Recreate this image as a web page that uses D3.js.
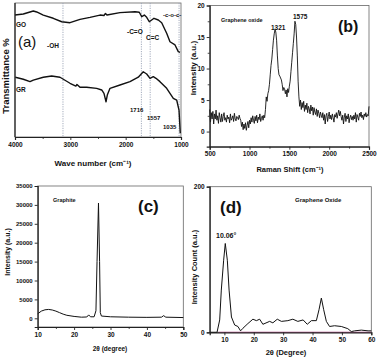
<!DOCTYPE html>
<html><head><meta charset="utf-8">
<script src="https://cdn.jsdelivr.net/npm/d3@7/dist/d3.min.js"></script>
<style>
body{margin:0;background:#fff;}
text{font-family:"Liberation Sans",Arial,sans-serif;font-weight:bold;fill:#111;}
</style></head>
<body><svg id="c" width="378" height="360"></svg>
<script>
// ---- Panel (a) FTIR data: [wavenumber, transmittance]
const goWn = [4000,3850,3729,3669,3608,3489,3308,3156,3006,2825,2645,2464,2392,2365,2338,2103,1831,1754,1710,1663,1620,1573,1530,1488,1410,1349,1259,1199,1108,1049,1018];
const goT  = [91.0,91.8,93.3,94.0,93.3,91.0,88.6,86.0,85.3,87.8,89.3,91.0,90.7,92.2,91.0,92.8,93.5,93.1,89.8,91.0,89.3,86.0,87.3,88.6,87.3,85.3,77.4,71.1,68.7,63.7,63.2];
const grWn = [3995,3850,3729,3669,3489,3337,3187,3006,2900,2880,2825,2705,2524,2433,2392,2355,2332,2283,2103,1922,1772,1682,1620,1560,1501,1452,1380,1259,1139,1078,1036,1013];
const grT  = [44.6,43.1,41.3,42.5,44.6,45.5,44.6,40.1,38.0,39.2,37.1,37.1,36.3,35.1,32.6,26.3,31.3,36.3,38.8,41.3,44.6,48.7,47.0,43.8,45.0,43.8,41.3,36.3,28.9,27.6,20.1,2.8];
const ftirMarks = [3133,1716,1557,1035];
const ftirXTicks = [4000,3000,2000,1000];

// ---- Panel (b) Raman data: start, step, intensities
const ramanStart = 500, ramanStep = 10;
const ramanI = [
 3.5,1.5,3,2,3.2,1.2,2.8,2,3.4,1.8,2.5,1.3,3,2.2,1.5,2.8,1.6,2.4,3,1.8,2.2,
 1.5,2.6,2,2.3,1.4,2.8,1.8,2.1,2.5,1.6,2.9,2,1.7,2.4,2.2,1.9,2.6,2.1,1.8,
 0.8,1.5,0.3,1.2,0.5,1.4,0.2,1.0,1.6,0.6,1.8,
 1.2,2.2,1.5,2.5,1.8,1.3,2.4,1.7,2.6,1.4,2.3,1.9,2.8,1.6,2.1,2.5,1.8,2.6,2.2,
 3.5,5.5,4.8,6,6.5,7.5,9,10.5,11.5,13,14.5,
 15.5,16.2,15.8,14.5,12,10,9,8.8,8.5,8.2,
 7.5,6.5,7,6.8,6,6.6,5.5,6.8,6.2,7.2,
 8,9.5,11,12.5,14,15.5,17.5,17,15,12,
 8,5.5,4,5,3.5,4.6,3.8,4.8,3.2,4.2,
 3.5,4.5,3,4,3.6,2.8,4.2,3.3,3.9,2.6,3.8,3.1,2.7,3.6,2.4,3.4,2.9,2.2,3.1,2.6,
 2.2,3,1.8,2.7,1.2,2.5,2.9,1.6,2.4,3.1,2,2.6,1.9,2.8,2.2,1.5,2.7,2.3,3,2.1,
 2.8,3.4,2.5,3.2,2.4,1.8,2.6,1.2,2.3,2.9,1.6,2.5,2,2.8,1.4,2.2,2.6,1.9,2.4,1.8,
 2.6,2,3,1.5,2.7,2.3,1.8,2.9,2.4,3.1,2.2,2.6,1.9,2.8,2.4,3,2.3,2.7,2.5,4];
const ramanXTicks = [500,1000,1500,2000,2500];
const ramanYTicks = [0,5,10,15,20];

// ---- Panel (c) graphite XRD
const grTheta = [10,11,12,13,14,15,16,17,18,20,22,23.5,24,24.5,25.5,26,26.3,26.7,27,27.2,27.5,30,35,40,44,44.6,45.2,50];
const grInt   = [1200,1900,2250,2350,2200,1900,1500,1100,800,500,300,350,900,400,400,2000,15000,30500,15000,1500,600,400,300,250,300,700,300,200];
const xrdCXTicks = [10,20,30,40,50];
const xrdCYTicks = [0,5000,10000,15000,20000,25000,30000,35000];

// ---- Panel (d) graphene oxide XRD
const goTheta = [5,7.5,8.4,8.95,9.75,10.3,11,11.6,12.4,13.5,14.6,15.5,16.3,18,19.7,20.9,22,23.1,25.4,26.5,28,29.4,31.6,33.3,35,36.8,38.2,39.6,41.3,42.2,43,43.8,44.7,45.8,47.5,49.8,52,53.2,54.3,56.6,58.9,60];
const goInt   = [0,0,17,58,99,122,99,58,21,10,8,2,5.5,12,18,16,18,11,15,13,18,15,16,18,15,17,11,16,16,31,47,31,15,8,9,8,5,1,2,3,2,2];
const xrdDXTicks = [10,20,30,40,50,60];
const xrdDYTicks = [0,200];

const svg = d3.select("#c");
const frameCol = "#666";

function frame(x, y) {
  const [x0,x1] = x.range(), [y0,y1] = y.range();
  svg.append("rect").attr("x",Math.min(x0,x1)).attr("y",Math.min(y0,y1))
    .attr("width",Math.abs(x1-x0)).attr("height",Math.abs(y1-y0))
    .attr("fill","none").attr("stroke",frameCol).attr("stroke-width",0.8);
}
function styleAxis(g, fs) {
  g.selectAll("path").attr("stroke","#222").attr("stroke-width",1.2);
  g.selectAll("line").attr("stroke","#222").attr("stroke-width",0.9);
  g.selectAll("text").attr("font-size",fs).attr("font-weight","bold").attr("fill","#111")
    .attr("font-family","'Liberation Sans',Arial,sans-serif");
}
function xAxis(x, y0, ticks, minor, fmt, fs) {
  const g = svg.append("g").attr("transform",`translate(0,${y0})`)
    .call(d3.axisBottom(x).tickValues(ticks).tickSize(3).tickPadding(2).tickFormat(fmt||d3.format("d")));
  styleAxis(g, fs||6.5);
  if (minor) svg.append("g").attr("transform",`translate(0,${y0})`)
    .call(d3.axisBottom(x).tickValues(minor).tickSize(2).tickFormat(""))
    .call(g2=>{g2.select("path").remove(); g2.selectAll("line").attr("stroke","#222").attr("stroke-width",0.8);});
}
function yAxis(y, x0, ticks, minor, fmt, fs) {
  const g = svg.append("g").attr("transform",`translate(${x0},0)`)
    .call(d3.axisLeft(y).tickValues(ticks).tickSize(3).tickPadding(2).tickFormat(fmt||d3.format("d")));
  styleAxis(g, fs||6.5);
  if (minor) svg.append("g").attr("transform",`translate(${x0},0)`)
    .call(d3.axisLeft(y).tickValues(minor).tickSize(2).tickFormat(""))
    .call(g2=>{g2.select("path").remove(); g2.selectAll("line").attr("stroke","#222").attr("stroke-width",0.8);});
}
function label(txt, x, y, fs, anchor, rot) {
  const t = svg.append("text").attr("x",x).attr("y",y).attr("font-size",fs)
    .attr("text-anchor",anchor||"start").text(txt);
  if (rot) t.attr("transform",`rotate(-90,${x},${y})`);
  return t;
}
function plotLine(x, y, xs, ys, w) {
  const line = d3.line().x(d=>x(d[0])).y(d=>y(d[1]));
  svg.append("path").datum(xs.map((v,i)=>[v,ys[i]])).attr("d",line)
    .attr("fill","none").attr("stroke","#111").attr("stroke-width",w||1).attr("stroke-linejoin","round");
}

// ===== Panel (a)
{
  const x = d3.scaleLinear().domain([4000,1000]).range([15,181]);
  const y = d3.scaleLinear().domain([0,100]).range([137,3]);
  frame(x,y);
  ftirMarks.forEach(m=>{
    svg.append("line").attr("x1",x(m)).attr("x2",x(m)).attr("y1",y(100)).attr("y2",y(0))
      .attr("stroke","#9aa3b5").attr("stroke-width",0.9).attr("stroke-dasharray","1.2,1.2");
  });
  plotLine(x,y,goWn,goT,1.4);
  plotLine(x,y,grWn,grT,1.4);
  xAxis(x,137,ftirXTicks,[3500,2500,1500]);
  svg.append("line").attr("x1",15).attr("x2",15).attr("y1",3).attr("y2",137).attr("stroke","#222").attr("stroke-width",1.2);
  label("GO",16,27,6.5);
  label("(a)",18,47,15).style("font-weight","normal");
  label("-OH",47,48,6.5);
  label("GR",16,92,6.5);
  label("-C=O",127,34,6.5);
  label("C=C",146,40,6.5);
  label("-c-o-c-",163,17,6);
  label("1716",130,112,6);
  label("1557",147,120,6);
  label("1035",163,129,6);
  label("Wave number (cm⁻¹)",93,166,8,"middle");
  label("Transmittance %",9,76,9.5,"middle",true);
}
// ===== Panel (b)
{
  const x = d3.scaleLinear().domain([500,2500]).range([209.7,369]);
  const y = d3.scaleLinear().domain([-2.4,20]).range([146.7,5.5]);
  frame(x,y);
  plotLine(x,y,ramanI.map((v,i)=>ramanStart+i*ramanStep),ramanI,0.9);
  xAxis(x,146.7,ramanXTicks,[750,1250,1750,2250]);
  yAxis(y,209.7,ramanYTicks,[2.5,7.5,12.5,17.5]);
  label("Graphene oxide",221,22,5.5);
  label("1321",271,30,6.5);
  label("1575",293,19,6.5);
  label("(b)",338,32,16);
  label("Raman Shift (cm⁻¹)",290,172,7.5,"middle");
  label("Intensity (a.u.)",196,68,8,"middle",true);
}
// ===== Panel (c)
{
  const x = d3.scaleLinear().domain([10,50]).range([37.7,183.3]);
  const y = d3.scaleLinear().domain([-2300,35000]).range([327,186]);
  frame(x,y);
  plotLine(x,y,grTheta,grInt,1);
  xAxis(x,327,xrdCXTicks,[15,25,35,45]);
  yAxis(y,37.7,xrdCYTicks,null,d3.format("d"),6);
  label("Graphite",53,202,5.5);
  label("(c)",138,212,17);
  label("2θ  (degree)",110,351,6.5,"middle");
  label("Intensity (a.u.)",10,252,7,"middle",true);
}
// ===== Panel (d)
{
  const x = d3.scaleLinear().domain([5,60]).range([209.7,371.3]);
  const y = d3.scaleLinear().domain([0,200]).range([332.3,186.7]);
  frame(x,y);
  svg.append("line").attr("x1",x(8)).attr("x2",x(60)).attr("y1",y(0)).attr("y2",y(0))
    .attr("stroke","#d46aa8").attr("stroke-width",1.2);
  plotLine(x,y,goTheta,goInt,1);
  xAxis(x,332.3,xrdDXTicks,null,d3.format("d"),6.5);
  yAxis(y,209.7,xrdDYTicks,null,d3.format("d"),6.5);
  label("(d)",220,213,17);
  label("10.06°",216,238,7);
  label("Graphene Oxide",295,202,6);
  label("2θ (Degree)",286,355,7.5,"middle");
  label("Intensity Count (a.u.)",197,267,7.5,"middle",true);
}
</script></body></html>
